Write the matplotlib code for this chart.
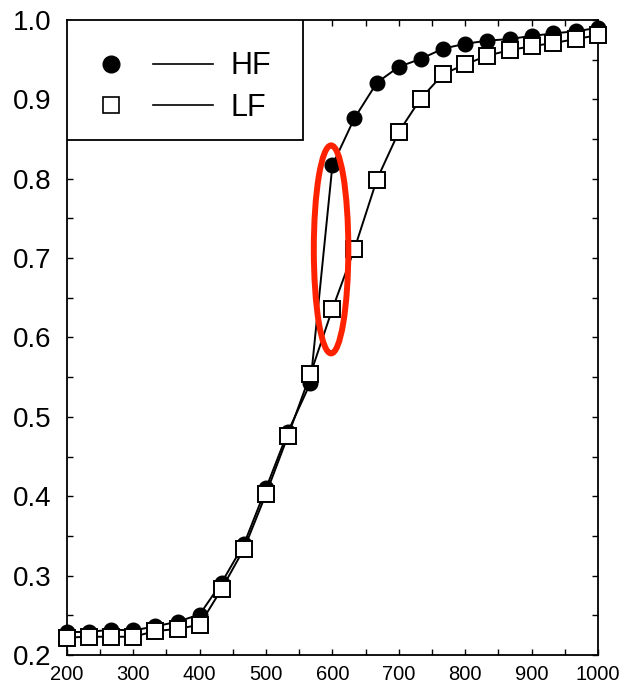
import numpy as np
import matplotlib.pyplot as plt
from matplotlib.lines import Line2D
from matplotlib.patches import Ellipse, Rectangle
from matplotlib.legend_handler import HandlerTuple
from matplotlib.ticker import MultipleLocator

plt.rcParams['font.family'] = ['Liberation Sans', 'DejaVu Sans']

x = [200, 233, 267, 300, 333, 367, 400, 433, 467, 500, 533, 567, 600,
     633, 667, 700, 733, 767, 800, 833, 867, 900, 933, 967, 1000]
hf = [0.229, 0.229, 0.232, 0.231, 0.236, 0.242, 0.251, 0.291, 0.340, 0.410,
      0.481, 0.543, 0.817, 0.876, 0.921, 0.941, 0.951, 0.964, 0.970, 0.974,
      0.976, 0.980, 0.983, 0.986, 0.990]
lf = [0.222, 0.223, 0.223, 0.223, 0.230, 0.233, 0.238, 0.283, 0.334, 0.403,
      0.476, 0.554, 0.636, 0.711, 0.799, 0.859, 0.901, 0.932, 0.944, 0.955,
      0.962, 0.967, 0.971, 0.976, 0.981]

# red highlight ellipse (data units)
ell_x, ell_y, ell_w, ell_h = 598, 0.711, 52, 0.262

fig = plt.figure(figsize=(6.19, 6.85), dpi=100)
ax = fig.add_axes([0.108, 0.0438, 0.858, 0.927])

ax.plot(x, lf, '-', color='k', lw=1.4, zorder=2)
ax.plot(x, hf, '-', color='k', lw=1.4, zorder=2)
ax.plot(x, hf, 'o', ms=10.5, mfc='k', mec='k', zorder=3, clip_on=False)
ax.plot(x, lf, 's', ms=11.5, mfc='white', mec='k', mew=1.4, zorder=4, clip_on=False)

ax.add_patch(Ellipse((ell_x, ell_y), ell_w, ell_h, fill=False,
                     edgecolor='#ff2200', lw=4.3, zorder=5))

ax.set_xlim(200, 1000)
ax.set_ylim(0.2, 1.0)
ax.xaxis.set_major_locator(MultipleLocator(100))
ax.xaxis.set_minor_locator(MultipleLocator(50))
ax.yaxis.set_major_locator(MultipleLocator(0.1))
ax.yaxis.set_minor_locator(MultipleLocator(0.05))
ax.tick_params(which='both', direction='in', top=True, right=True, width=1)
ax.tick_params(which='major', length=4)
ax.tick_params(which='minor', length=4)
ax.tick_params(axis='x', labelsize=14.5, pad=7)
ax.tick_params(axis='y', labelsize=20, pad=11)
for s in ax.spines.values():
    s.set_linewidth(1.3)

# legend box
ax.add_patch(Rectangle((0, 1 - 0.189), 0.444, 0.189, transform=ax.transAxes,
                       facecolor='white', edgecolor='k', lw=1.3, zorder=6))

h_mark = Line2D([], [], ls='none', marker='o', ms=12, mfc='k', mec='k')
l_mark = Line2D([], [], ls='none', marker='s', ms=11, mfc='white', mec='k', mew=1.2)
line = Line2D([], [], color='k', lw=1.2)
leg = ax.legend([(h_mark, line), (l_mark, line)], ['HF', 'LF'],
                handler_map={tuple: HandlerTuple(ndivide=None, pad=0.4)},
                loc='upper left', bbox_to_anchor=(-0.0075, 0.9796), borderaxespad=0,
                frameon=False, fontsize=22,
                handlelength=4.3, handletextpad=0.6, labelspacing=0.38,
                borderpad=0.6)
leg.set_zorder(7)

fig.savefig('out.png', dpi=100)
